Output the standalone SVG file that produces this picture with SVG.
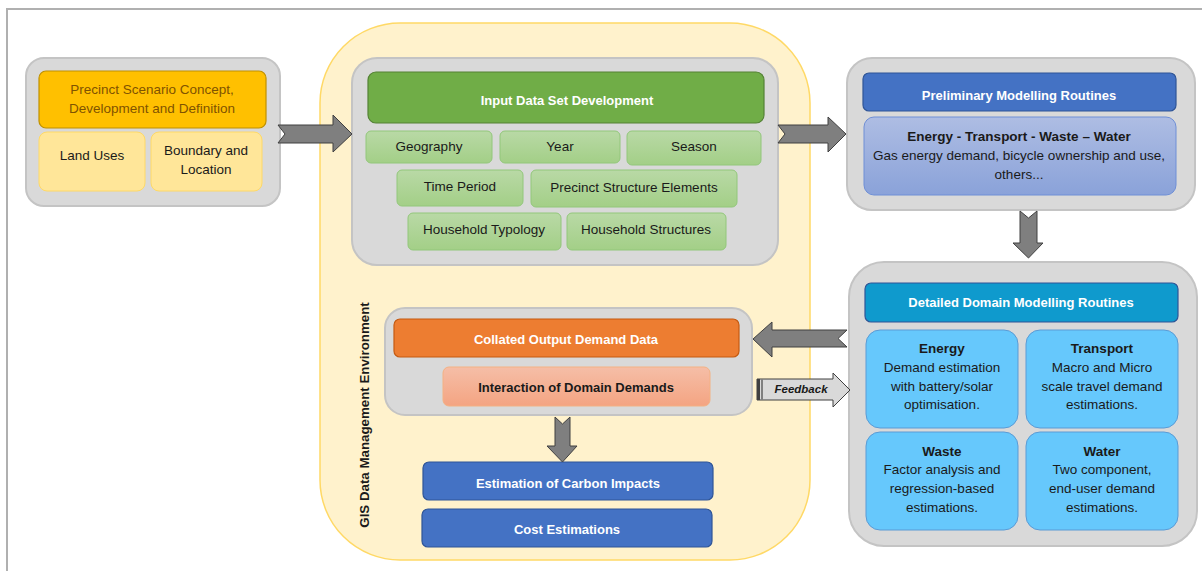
<svg xmlns="http://www.w3.org/2000/svg" width="1202" height="571" viewBox="0 0 1202 571">
  <defs>
    <linearGradient id="gGreen" x1="0" y1="0" x2="0" y2="1">
      <stop offset="0" stop-color="#b9d9a6"/>
      <stop offset="1" stop-color="#a3cf87"/>
    </linearGradient>
    <linearGradient id="gBlue" x1="0" y1="0" x2="0" y2="1">
      <stop offset="0" stop-color="#aebde3"/>
      <stop offset="1" stop-color="#8aa2d9"/>
    </linearGradient>
    <linearGradient id="gSalmon" x1="0" y1="0" x2="0" y2="1">
      <stop offset="0" stop-color="#f5bea7"/>
      <stop offset="1" stop-color="#f4a482"/>
    </linearGradient>
    <style>
      text { font-family: "Liberation Sans", Arial, sans-serif; text-anchor: middle; dominant-baseline: central; }
      .panel { fill: #d9d9d9; stroke: #c4c4c4; stroke-width: 2; }
      .lbl { font-size: 13.5px; fill: #1a1a1a; }
      .hdr { font-size: 13px; font-weight: bold; fill: #ffffff; }
      .bold { font-weight: bold; }
      .sub { fill: url(#gGreen); stroke: #92c77a; stroke-width: 1; }
      .quad { fill: #66c8fc; stroke: #5b9bd5; stroke-width: 1; }
      .darkblue { fill: #4472c4; stroke: #2f5597; stroke-width: 1.2; }
      .arrow { fill: #7f7f7f; stroke: #404040; stroke-width: 1; }
    </style>
  </defs>

  <rect width="1202" height="571" fill="#ffffff"/>
  <!-- page frame -->
  <path d="M7,571 V9 H1202" fill="none" stroke="#b0b0b0" stroke-width="2"/>

  <!-- GIS environment band -->
  <g id="gis-environment">
    <rect x="320" y="23" width="490" height="537" rx="80" ry="80" fill="#fff2cc" stroke="#ffd966" stroke-width="1.5"/>
    <text transform="translate(364,415) rotate(-90)" class="bold" style="font-size:13.3px; fill:#1a1a1a">GIS Data Management Environment</text>
  </g>

  <!-- scenario definition -->
  <g id="scenario">
    <rect class="panel" x="26" y="58" width="254" height="148" rx="18"/>
    <rect x="39" y="71" width="227" height="57" rx="7" fill="#ffc000" stroke="#bf9000" stroke-width="1.2"/>
    <text x="152" y="89" class="lbl" style="fill:#7f5300">Precinct Scenario Concept,</text>
    <text x="152" y="108" class="lbl" style="fill:#7f5300">Development and Definition</text>
    <rect x="39" y="132" width="106" height="59" rx="8" fill="#ffe699" stroke="#ffd966"/>
    <text x="92" y="155" class="lbl">Land Uses</text>
    <rect x="151" y="132" width="111" height="59" rx="8" fill="#ffe699" stroke="#ffd966"/>
    <text x="206" y="150" class="lbl">Boundary and</text>
    <text x="206" y="169" class="lbl">Location</text>
  </g>

  <!-- input data set -->
  <g id="input-data">
    <rect class="panel" x="352" y="58" width="426" height="207" rx="25"/>
    <rect x="368" y="72" width="396" height="51" rx="8" fill="#70ad47" stroke="#548235" stroke-width="1.2"/>
    <text x="567" y="100" class="hdr">Input Data Set Development</text>
    <rect class="sub" x="366" y="131" width="126" height="32" rx="5"/>
    <text x="429" y="146" class="lbl">Geography</text>
    <rect class="sub" x="500" y="131" width="120" height="32" rx="5"/>
    <text x="560" y="146" class="lbl">Year</text>
    <rect class="sub" x="627" y="131" width="134" height="34" rx="5"/>
    <text x="694" y="146" class="lbl">Season</text>
    <rect class="sub" x="397" y="170" width="126" height="36" rx="5"/>
    <text x="460" y="186" class="lbl">Time Period</text>
    <rect class="sub" x="531" y="170" width="206" height="37" rx="5"/>
    <text x="634" y="187" class="lbl">Precinct Structure Elements</text>
    <rect class="sub" x="408" y="213" width="153" height="37" rx="5"/>
    <text x="484" y="229" class="lbl">Household Typology</text>
    <rect class="sub" x="567" y="213" width="159" height="37" rx="5"/>
    <text x="646" y="229" class="lbl">Household Structures</text>
  </g>

  <!-- preliminary modelling -->
  <g id="preliminary">
    <rect class="panel" x="847" y="58" width="348" height="152" rx="25"/>
    <rect class="darkblue" x="863" y="73" width="313" height="38" rx="6"/>
    <text x="1019" y="95" class="hdr">Preliminary Modelling Routines</text>
    <rect x="864" y="117" width="312" height="78" rx="10" fill="url(#gBlue)" stroke="#6f8fd6"/>
    <text x="1019" y="136" class="lbl bold">Energy - Transport - Waste – Water</text>
    <text x="1019" y="155" class="lbl">Gas energy demand, bicycle ownership and use,</text>
    <text x="1019" y="174" class="lbl">others...</text>
  </g>

  <!-- detailed domain modelling -->
  <g id="detailed">
    <rect class="panel" x="849" y="262" width="348" height="284" rx="35"/>
    <rect x="865" y="283" width="313" height="39" rx="6" fill="#0f9acd" stroke="#2f5597" stroke-width="1.2"/>
    <text x="1021" y="302" class="hdr">Detailed Domain Modelling Routines</text>
    <rect class="quad" x="866" y="330" width="152" height="98" rx="14"/>
    <text x="942" y="348" class="lbl bold">Energy</text>
    <text x="942" y="367" class="lbl">Demand estimation</text>
    <text x="942" y="386" class="lbl">with battery/solar</text>
    <text x="942" y="404" class="lbl">optimisation.</text>
    <rect class="quad" x="1026" y="330" width="152" height="98" rx="14"/>
    <text x="1102" y="348" class="lbl bold">Transport</text>
    <text x="1102" y="367" class="lbl">Macro and Micro</text>
    <text x="1102" y="386" class="lbl">scale travel demand</text>
    <text x="1102" y="404" class="lbl">estimations.</text>
    <rect class="quad" x="866" y="432" width="152" height="98" rx="14"/>
    <text x="942" y="451" class="lbl bold">Waste</text>
    <text x="942" y="469" class="lbl">Factor analysis and</text>
    <text x="942" y="488" class="lbl">regression-based</text>
    <text x="942" y="507" class="lbl">estimations.</text>
    <rect class="quad" x="1026" y="432" width="152" height="98" rx="14"/>
    <text x="1102" y="451" class="lbl bold">Water</text>
    <text x="1102" y="469" class="lbl">Two component,</text>
    <text x="1102" y="488" class="lbl">end-user demand</text>
    <text x="1102" y="507" class="lbl">estimations.</text>
  </g>

  <!-- collated output -->
  <g id="collated">
    <rect class="panel" x="385" y="308" width="367" height="107" rx="20"/>
    <rect x="394" y="319" width="345" height="38" rx="6" fill="#ed7d31" stroke="#c55a11" stroke-width="1.2"/>
    <text x="566" y="339" class="hdr">Collated Output Demand Data</text>
    <rect x="443" y="367" width="267" height="39" rx="6" fill="url(#gSalmon)" stroke="#f4b183"/>
    <text x="576" y="387" class="bold" style="font-size:13px; fill:#1a1a1a">Interaction of Domain Demands</text>
  </g>

  <!-- outputs -->
  <g id="carbon">
    <rect class="darkblue" x="423" y="462" width="290" height="38" rx="6"/>
    <text x="568" y="483" class="hdr">Estimation of Carbon Impacts</text>
  </g>
  <g id="cost">
    <rect class="darkblue" x="422" y="509" width="290" height="38" rx="6"/>
    <text x="567" y="529" class="hdr">Cost Estimations</text>
  </g>

  <!-- connectors -->
  <g id="connectors">
    <!-- scenario to input data -->
    <path class="arrow" d="M278,125 H333 V115 L352,134 L333,152 V143 H278 L285,134 Z"/>
    <!-- input data to preliminary -->
    <path class="arrow" d="M778,125 H828 V117 L846,134 L828,152 V143 H778 L785,134 Z"/>
    <!-- preliminary to detailed -->
    <path class="arrow" d="M1020,211 L1028.5,218 L1037,211 V243 H1043 L1028.5,258 L1013,243 H1020 Z"/>
    <!-- detailed back to collated -->
    <path class="arrow" d="M847,330 L838,338.5 L847,347 H772 V357 L753,339 L772,322 V330 Z"/>
    <!-- collated down to carbon -->
    <path class="arrow" d="M555,417 L562.5,424 L570,417 V446 H577 L562.5,462 L547,446 H555 Z"/>
    <!-- feedback to detailed -->
    <g id="feedback">
      <path d="M757,379 H833 V373 L850,390 L833,407 V400 H757 Z" fill="#d9d9d9" stroke="#404040" stroke-width="1"/>
      <rect x="757" y="379" width="3" height="21" fill="#404040"/>
      <rect x="761" y="379" width="2" height="21" fill="#7f7f7f"/>
      <text x="801" y="389" style="font-size:11.5px; font-style:italic; font-weight:bold; fill:#1a1a1a">Feedback</text>
    </g>
  </g>
</svg>
